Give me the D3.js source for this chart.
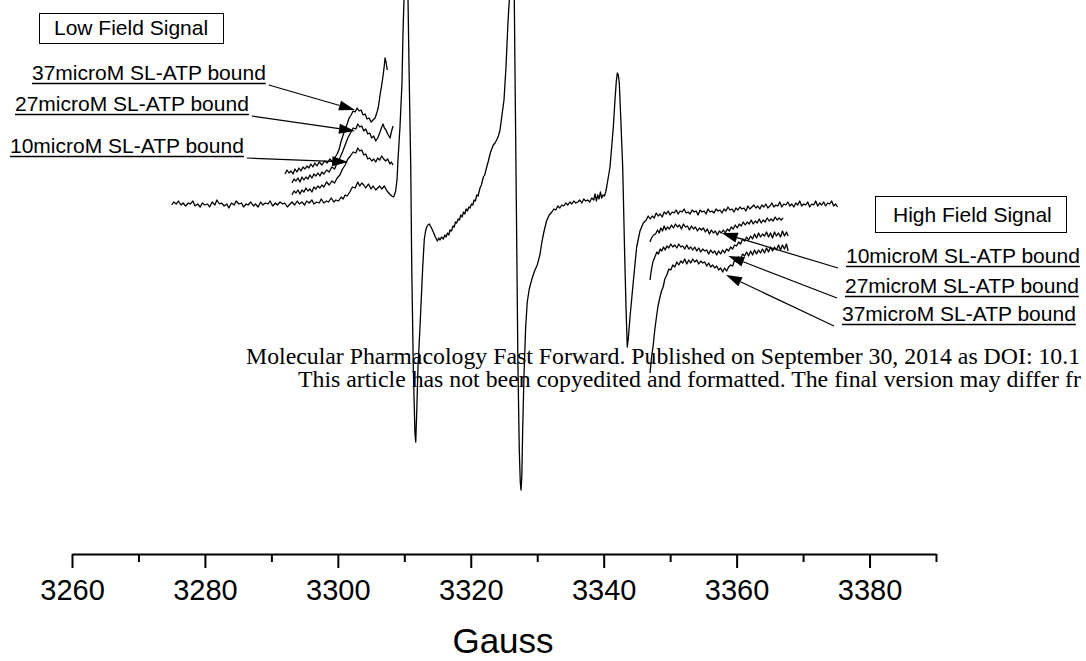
<!DOCTYPE html>
<html>
<head>
<meta charset="utf-8">
<script src="https://cdn.jsdelivr.net/npm/d3@7"></script>
<style>
  html, body { margin: 0; padding: 0; background: #fff; }
  svg { display: block; }
</style>
</head>
<body>
<svg id="chart" width="1086" height="661"></svg>
<script>
// EPR first-derivative spectra: field (Gauss) vs. signal (arbitrary units)

// Full spectrum of the spin label
const mainSpectrum = [
  [3275.0,2],[3275.3,5],[3275.7,3],[3276.0,6],[3276.4,2],[3276.7,4],[3277.1,1],[3277.5,4],[3277.8,3],[3278.2,6],
  [3278.5,1],[3278.9,3],[3279.3,0],[3279.6,4],[3280.0,2],[3280.4,3],[3280.7,0],[3281.1,5],[3281.5,2],[3281.8,7],
  [3282.2,3],[3282.5,4],[3282.9,1],[3283.3,3],[3283.6,-1],[3284.0,4],[3284.4,2],[3284.7,6],[3285.1,3],[3285.5,4],
  [3285.8,0],[3286.2,3],[3286.5,2],[3286.9,5],[3287.3,1],[3287.6,3],[3288.0,0],[3288.4,5],[3288.7,2],[3289.1,4],
  [3289.5,3],[3289.8,6],[3290.2,1],[3290.6,4],[3290.9,2],[3291.3,5],[3291.7,3],[3292.0,4],[3292.4,0],[3292.8,3],
  [3293.1,5],[3293.5,2],[3293.9,6],[3294.2,3],[3294.6,5],[3295.0,2],[3295.3,6],[3295.7,4],[3296.1,7],[3296.4,3],
  [3296.8,5],[3297.2,4],[3297.5,8],[3297.9,4],[3298.3,6],[3298.6,5],[3299.0,9],[3299.4,5],[3299.7,7],[3300.1,6],
  [3300.5,10],[3300.8,8],[3301.1,12],[3301.4,11],[3301.8,15],[3302.2,20],[3302.6,19],[3303.0,25],[3303.3,21],[3303.6,24],
  [3303.9,22],[3304.2,19],[3304.6,23],[3305.0,18],[3305.3,21],[3305.7,17],[3306.0,19],[3306.3,21],[3306.6,18],[3307.0,21],
  [3307.4,16],[3307.8,13],[3308.1,11],[3308.4,10],[3308.7,16],[3308.9,27],[3309.05,47],[3309.35,80],[3309.65,124],
  [3309.8,174],[3309.95,207],[3310.1,240],[3310.3,258],[3310.45,238],[3310.56,207],[3310.71,140],[3310.97,40],[3311.12,-60],[3311.35,-160],
  [3311.6,-226],[3311.72,-235],[3311.87,-205],[3312.06,-160],[3312.36,-120],[3312.77,-60],[3313.01,-32],[3313.2,-24],[3313.37,-20],[3313.56,-18],
  [3313.76,-17],[3314.01,-20],[3314.37,-25],[3314.67,-30],[3314.97,-34],[3315.2,-31],[3315.37,-33],[3315.6,-30],[3315.87,-32],[3316.1,-28],
  [3316.28,-30],[3316.5,-26],[3316.7,-28],[3316.88,-23],[3317.1,-24],[3317.33,-19],[3317.5,-20],[3317.7,-15],[3317.88,-16],[3318.1,-12],
  [3318.3,-13],[3318.5,-8],[3318.7,-10],[3318.9,-5],[3319.1,-7],[3319.3,-2],[3319.5,-4],[3319.7,0],[3319.89,-1],[3320.1,3],
  [3320.3,2],[3320.5,7],[3320.7,6],[3320.9,12],[3321.1,11],[3321.39,19],[3321.6,22],[3321.89,30],[3322.1,32],[3322.4,40],
  [3322.65,46],[3322.9,53],[3323.15,58],[3323.39,62],[3323.65,64],[3323.9,67],[3324.15,71],[3324.4,77],[3324.7,92],[3325.0,107],
  [3325.3,140],[3325.6,185],[3325.8,207],[3326.0,245],[3326.15,262],[3326.3,250],
  [3326.55,207],[3326.7,107],[3326.9,-26],[3327.1,-160],[3327.3,-243],[3327.45,-275],[3327.56,-283],[3327.68,-270],[3327.8,-226],[3328.0,-170],
  [3328.26,-120],[3328.5,-95],[3328.8,-82],[3329.2,-72],[3329.6,-64],[3330.0,-58],[3330.4,-48],[3330.7,-35],[3331.0,-25],[3331.4,-14],
  [3331.8,-8],[3332.2,-5],[3332.5,-2],[3332.8,-3],[3333.1,1],[3333.4,-1],[3333.7,2],[3334.0,1],[3334.3,4],[3334.6,2],
  [3334.9,5],[3335.2,3],[3335.5,6],[3335.8,4],[3336.1,5],[3336.4,7],[3336.7,4],[3337.0,8],[3337.3,6],[3337.6,7],
  [3337.9,5],[3338.2,9],[3338.5,7],[3338.7,13],[3338.9,6],[3339.1,12],[3339.3,8],[3339.5,15],[3339.7,9],[3339.9,12],
  [3340.1,11],[3340.3,15],[3340.45,20],[3340.95,40],[3341.45,80],[3341.7,107],[3341.9,126],[3342.05,134],
  [3342.2,132],[3342.35,124],[3342.56,90],[3342.86,40],[3343.2,-60],[3343.4,-110],[3343.55,-140],[3343.7,-132],[3343.96,-110],[3344.45,-75],
  [3344.96,-40],[3345.46,-24],[3345.96,-16],[3346.4,-13],[3346.7,-9],[3347.0,-12],[3347.3,-9],[3347.6,-11],[3347.9,-6],[3348.2,-9],
  [3348.5,-7],[3348.8,-10],[3349.1,-5],[3349.4,-7],[3349.7,-4],[3350.0,-8],[3350.3,-5],[3350.6,-6],[3350.9,-3],[3351.2,-7],
  [3351.5,-4],[3351.8,-5],[3352.1,-2],[3352.4,-6],[3352.7,-5],[3353.0,-7],[3353.3,-3],[3353.6,-5],[3353.9,-4],[3354.2,-8],
  [3354.5,-3],[3354.8,-5],[3355.1,-4],[3355.4,-7],[3355.7,-2],[3356.0,-5],[3356.3,-4],[3356.6,-6],[3356.9,-2],[3357.2,-4],
  [3357.5,-3],[3357.8,-6],[3358.1,-2],[3358.4,-4],[3358.7,0],[3359.0,-3],[3359.3,-2],[3359.6,-5],[3359.9,-1],[3360.2,-3],
  [3360.5,0],[3360.8,-2],[3361.1,-1],[3361.4,-4],[3361.7,1],[3362.0,-2],[3362.3,0],[3362.6,2],[3362.9,-1],[3363.2,1],
  [3363.5,-2],[3363.8,2],[3364.1,0],[3364.4,3],[3364.7,-1],[3365.0,1],[3365.3,4],[3365.6,0],[3365.9,2],[3366.2,1],
  [3366.5,5],[3366.8,0],[3367.1,3],[3367.4,2],[3367.7,5],[3368.0,1],[3368.3,3],[3368.6,0],[3368.9,4],[3369.2,2],
  [3369.5,6],[3369.8,1],[3370.1,3],[3370.4,2],[3370.7,5],[3371.0,0],[3371.3,3],[3371.6,2],[3371.9,6],[3372.2,1],
  [3372.5,4],[3372.8,2],[3373.1,5],[3373.4,1],[3373.7,4],[3374.0,3],[3374.3,6],[3374.6,1],[3374.9,3],[3375.2,0]
];

// Low-field region, SL-ATP bound (offset traces)
const lowField10 = [
  [3293.1,12],[3293.4,16],[3293.7,14],[3294.0,17],[3294.3,13],[3294.6,17],[3294.9,15],[3295.2,19],[3295.5,16],[3295.8,18],
  [3296.1,15],[3296.4,20],[3296.7,18],[3297.0,21],[3297.3,19],[3297.6,22],[3297.9,20],[3298.3,25],[3298.7,22],[3299.1,26],
  [3299.5,24],[3299.9,29],[3300.3,32],[3300.7,38],[3301.1,42],[3301.5,48],[3301.9,51],[3302.3,55],[3302.7,54],[3303.0,59],
  [3303.3,56],[3303.6,57],[3303.9,52],[3304.2,53],[3304.5,48],[3304.8,49],[3305.1,46],[3305.4,48],[3305.7,45],[3306.0,49],
  [3306.3,47],[3306.6,51],[3306.9,48],[3307.2,46],[3307.5,48],[3307.85,43],[3308.05,45],[3308.3,42]
];
const lowField27 = [
  [3293.1,24],[3293.4,28],[3293.7,26],[3294.0,29],[3294.3,25],[3294.6,30],[3294.9,27],[3295.2,30],[3295.5,28],[3295.8,32],
  [3296.1,29],[3296.4,33],[3296.7,31],[3297.0,34],[3297.3,31],[3297.6,35],[3297.9,33],[3298.3,37],[3298.7,35],[3299.1,40],
  [3299.5,38],[3299.9,44],[3300.3,49],[3300.7,55],[3301.1,62],[3301.5,69],[3301.9,74],[3302.3,79],[3302.7,78],[3303.0,83],
  [3303.3,80],[3303.6,81],[3303.9,76],[3304.2,78],[3304.5,73],[3304.8,74],[3305.1,69],[3305.4,71],[3305.7,66],[3306.0,69],
  [3306.3,74],[3306.55,79],[3306.8,83],[3307.0,79],[3307.25,77],[3307.5,73],[3307.85,69],[3308.05,75],[3308.3,81]
];
const lowField37 = [
  [3292.05,33],[3292.35,37],[3292.65,34],[3292.95,36],[3293.25,33],[3293.55,38],[3293.85,35],[3294.15,39],[3294.45,36],[3294.75,40],
  [3295.05,38],[3295.35,41],[3295.65,39],[3295.95,43],[3296.25,40],[3296.55,44],[3296.85,41],[3297.2,45],[3297.6,42],[3298.0,46],
  [3298.4,44],[3298.8,48],[3299.2,45],[3299.6,50],[3299.9,53],[3300.2,58],[3300.5,66],[3300.8,72],[3301.1,78],[3301.4,83],
  [3301.7,89],[3302.0,92],[3302.3,96],[3302.6,95],[3302.9,99],[3303.2,96],[3303.5,97],[3303.8,92],[3304.1,93],[3304.4,88],
  [3304.7,89],[3305.0,85],[3305.3,87],[3305.6,89],[3305.9,95],[3306.1,100],[3306.35,112],[3306.6,122],[3306.8,131],[3307.0,142],
  [3307.1,149],[3307.25,145],[3307.44,137]
];

// High-field region, SL-ATP bound (offset traces)
const highField10 = [
  [3346.97,-35],[3347.2,-31],[3347.5,-28],[3347.8,-27],[3348.1,-23],[3348.35,-26],[3348.6,-21],[3348.85,-24],[3349.1,-19],[3349.35,-23],
  [3349.6,-20],[3349.9,-22],[3350.2,-18],[3350.5,-21],[3350.8,-17],[3351.1,-20],[3351.4,-18],[3351.7,-22],[3352.0,-17],[3352.3,-20],
  [3352.6,-19],[3352.9,-23],[3353.2,-19],[3353.5,-22],[3353.8,-20],[3354.1,-24],[3354.4,-21],[3354.7,-23],[3355.0,-21],[3355.3,-25],
  [3355.6,-22],[3355.9,-27],[3356.2,-23],[3356.5,-26],[3356.8,-24],[3357.1,-28],[3357.4,-24],[3357.7,-26],[3358.0,-23],[3358.3,-26],
  [3358.6,-22],[3358.9,-24],[3359.2,-20],[3359.5,-22],[3359.8,-18],[3360.1,-21],[3360.4,-17],[3360.7,-19],[3361.0,-15],[3361.3,-18],
  [3361.6,-15],[3361.9,-17],[3362.2,-13],[3362.5,-17],[3362.8,-14],[3363.1,-16],[3363.4,-12],[3363.7,-16],[3364.0,-13],[3364.3,-15],
  [3364.6,-11],[3364.9,-14],[3365.2,-12],[3365.5,-14],[3365.8,-10],[3366.1,-13],[3366.4,-11],[3366.7,-13],[3367.0,-11]
];
const highField27 = [
  [3346.97,-73],[3347.15,-64],[3347.4,-55],[3347.7,-50],[3348.0,-45],[3348.25,-47],[3348.5,-42],[3348.75,-44],[3349.0,-40],[3349.25,-43],
  [3349.5,-39],[3349.8,-41],[3350.1,-37],[3350.4,-40],[3350.7,-38],[3351.0,-41],[3351.3,-37],[3351.6,-40],[3351.9,-39],[3352.2,-42],
  [3352.5,-38],[3352.8,-42],[3353.1,-40],[3353.4,-43],[3353.7,-40],[3354.0,-44],[3354.3,-41],[3354.6,-45],[3354.9,-42],[3355.2,-44],
  [3355.5,-43],[3355.8,-47],[3356.1,-43],[3356.4,-46],[3356.7,-44],[3357.0,-48],[3357.3,-44],[3357.6,-47],[3357.9,-43],[3358.2,-46],
  [3358.5,-42],[3358.8,-44],[3359.1,-40],[3359.4,-42],[3359.7,-38],[3360.0,-39],[3360.3,-35],[3360.6,-37],[3360.9,-32],[3361.2,-34],
  [3361.5,-30],[3361.8,-33],[3362.1,-29],[3362.4,-32],[3362.7,-27],[3363.0,-31],[3363.3,-26],[3363.6,-30],[3363.9,-27],[3364.2,-29],
  [3364.5,-25],[3364.8,-30],[3365.1,-26],[3365.4,-31],[3365.7,-25],[3366.0,-29],[3366.3,-26],[3366.6,-30],[3366.9,-24],[3367.2,-29],
  [3367.5,-25],[3367.75,-29]
];
const highField37 = [
  [3346.97,-166],[3347.2,-150],[3347.42,-140],[3347.7,-122],[3347.9,-112],[3348.15,-100],[3348.4,-92],[3348.7,-84],[3348.95,-80],[3349.2,-72],
  [3349.5,-68],[3349.8,-62],[3350.1,-63],[3350.4,-58],[3350.7,-60],[3351.0,-55],[3351.3,-58],[3351.6,-54],[3351.9,-56],[3352.2,-52],
  [3352.5,-57],[3352.8,-53],[3353.1,-56],[3353.4,-52],[3353.7,-55],[3354.0,-53],[3354.3,-57],[3354.6,-54],[3354.9,-56],[3355.2,-55],
  [3355.5,-59],[3355.8,-56],[3356.1,-60],[3356.4,-58],[3356.7,-61],[3357.0,-59],[3357.3,-63],[3357.6,-61],[3357.9,-65],[3358.2,-61],
  [3358.5,-64],[3358.8,-60],[3359.1,-58],[3359.4,-59],[3359.7,-53],[3360.0,-55],[3360.3,-50],[3360.6,-52],[3360.9,-47],[3361.2,-49],
  [3361.5,-45],[3361.8,-49],[3362.1,-44],[3362.4,-48],[3362.7,-43],[3363.0,-47],[3363.3,-43],[3363.6,-46],[3363.9,-42],[3364.2,-46],
  [3364.5,-41],[3364.8,-45],[3365.1,-40],[3365.4,-44],[3365.7,-40],[3366.0,-43],[3366.3,-38],[3366.6,-43],[3366.9,-38],[3367.2,-42],
  [3367.5,-37],[3367.75,-44]
];

// Axis ticks
const majorTicks = [3260, 3280, 3300, 3320, 3340, 3360, 3380];
const minorTicks = [3270, 3290, 3310, 3330, 3350, 3370, 3390];
const axisTitle = "Gauss";

// Annotation text
const panelTitles = ["Low Field Signal", "High Field Signal"];
const lowLabels  = ["37microM SL-ATP bound", "27microM SL-ATP bound", "10microM SL-ATP bound"];
const highLabels = ["10microM SL-ATP bound", "27microM SL-ATP bound", "37microM SL-ATP bound"];
// arrow targets on the traces, in data units [Gauss, signal]
const lowTargets  = [[3302.58, 97], [3302.58, 76], [3301.57, 45]];
const highTargets = [[3357.75, -26], [3358.75, -49], [3358.4, -68]];

// journal banner (the page edge cuts both lines)
const banner = [
  "Molecular Pharmacology Fast Forward. Published on September 30, 2014 as DOI: 10.1",
  "This article has not been copyedited and formatted. The final version may differ fr"
];

// ---------------------------------------------------------------
const svg = d3.select("#chart");
const x = d3.scaleLinear().domain([3260, 3390]).range([72, 936]);
const y = d3.scaleLinear().domain([-300, 200]).range([507, 7]);
const sans = "'Liberation Sans', Arial, sans-serif";

const line = d3.line().x(d => x(d[0])).y(d => y(d[1]));

const traces = svg.append("g").attr("fill", "none").attr("stroke", "#000")
  .attr("stroke-width", 1.3).attr("stroke-linejoin", "round");
[mainSpectrum, lowField10, lowField27, lowField37, highField10, highField27, highField37]
  .forEach(s => traces.append("path").attr("d", line(s)));

// x axis: labelled major ticks plus short minor ticks
const axisY = 554;
const gMajor = svg.append("g").attr("transform", `translate(0,${axisY})`)
  .call(d3.axisBottom(x).tickValues(majorTicks).tickSize(14).tickSizeOuter(0).tickFormat(d3.format("d")));
const gMinor = svg.append("g").attr("transform", `translate(0,${axisY})`)
  .call(d3.axisBottom(x).tickValues(minorTicks).tickSize(8).tickSizeOuter(0).tickFormat(""));
gMinor.select(".domain").remove();
[gMajor, gMinor].forEach(g => {
  g.selectAll("path, line").attr("stroke", "#000").attr("stroke-width", 2);
});
gMajor.selectAll("text")
  .attr("y", 46).attr("dy", 0)
  .attr("font-family", sans).attr("font-size", 29).attr("fill", "#000");

svg.append("text").attr("x", 503).attr("y", 653).attr("text-anchor", "middle")
  .attr("font-family", sans).attr("font-size", 35).text(axisTitle);

// panel title boxes
function titleBox(txt, bx, by, bw, bh, tx, ty) {
  svg.append("rect").attr("x", bx + 0.5).attr("y", by + 0.5).attr("width", bw).attr("height", bh)
    .attr("fill", "#fff").attr("stroke", "#000").attr("stroke-width", 1);
  svg.append("text").attr("x", tx).attr("y", ty).attr("font-family", sans)
    .attr("font-size", 21).text(txt);
}
titleBox(panelTitles[0], 39, 13, 184, 30, 54, 35);
titleBox(panelTitles[1], 875, 196, 191, 36, 893, 222);

// underlined labels with arrows pointing at the traces
function arrow(x1, y1, x2, y2) {
  const ang = Math.atan2(y2 - y1, x2 - x1), L = 16, W = 5;
  const bx = x2 - L * Math.cos(ang), by = y2 - L * Math.sin(ang);
  svg.append("line").attr("x1", x1).attr("y1", y1).attr("x2", bx).attr("y2", by)
    .attr("stroke", "#000").attr("stroke-width", 1.2);
  const px = -Math.sin(ang) * W, py = Math.cos(ang) * W;
  svg.append("path")
    .attr("d", `M${x2},${y2}L${bx + px},${by + py}L${bx - px},${by - py}Z`)
    .attr("fill", "#000");
}
function label(txt, lx, ly, side, target) {
  const t = svg.append("text").attr("x", lx).attr("y", ly).attr("font-family", sans)
    .attr("font-size", 21).text(txt);
  const w = t.node().getComputedTextLength();
  svg.append("line").attr("x1", lx).attr("x2", lx + w).attr("y1", ly + 3.5).attr("y2", ly + 3.5)
    .attr("stroke", "#000").attr("stroke-width", 1.5);
  const sx = side === "right" ? lx + w + 3 : lx - 8;
  arrow(sx, ly + 5, x(target[0]), y(target[1]));
}
const lowPos = [[32, 80], [15, 111], [10, 153]];
lowLabels.forEach((t, i) => label(t, lowPos[i][0], lowPos[i][1], "right", lowTargets[i]));
const highPos = [[846, 263], [845, 293], [842, 321]];
highLabels.forEach((t, i) => label(t, highPos[i][0], highPos[i][1], "left", highTargets[i]));

// journal banner lines
const serif = "'Liberation Serif', 'Times New Roman', serif";
svg.append("text").attr("x", 246).attr("y", 364).attr("font-family", serif)
  .attr("font-size", 23.8).text(banner[0]);
svg.append("text").attr("x", 298).attr("y", 387).attr("font-family", serif)
  .attr("font-size", 23.8).text(banner[1]);
</script>
</body>
</html>
